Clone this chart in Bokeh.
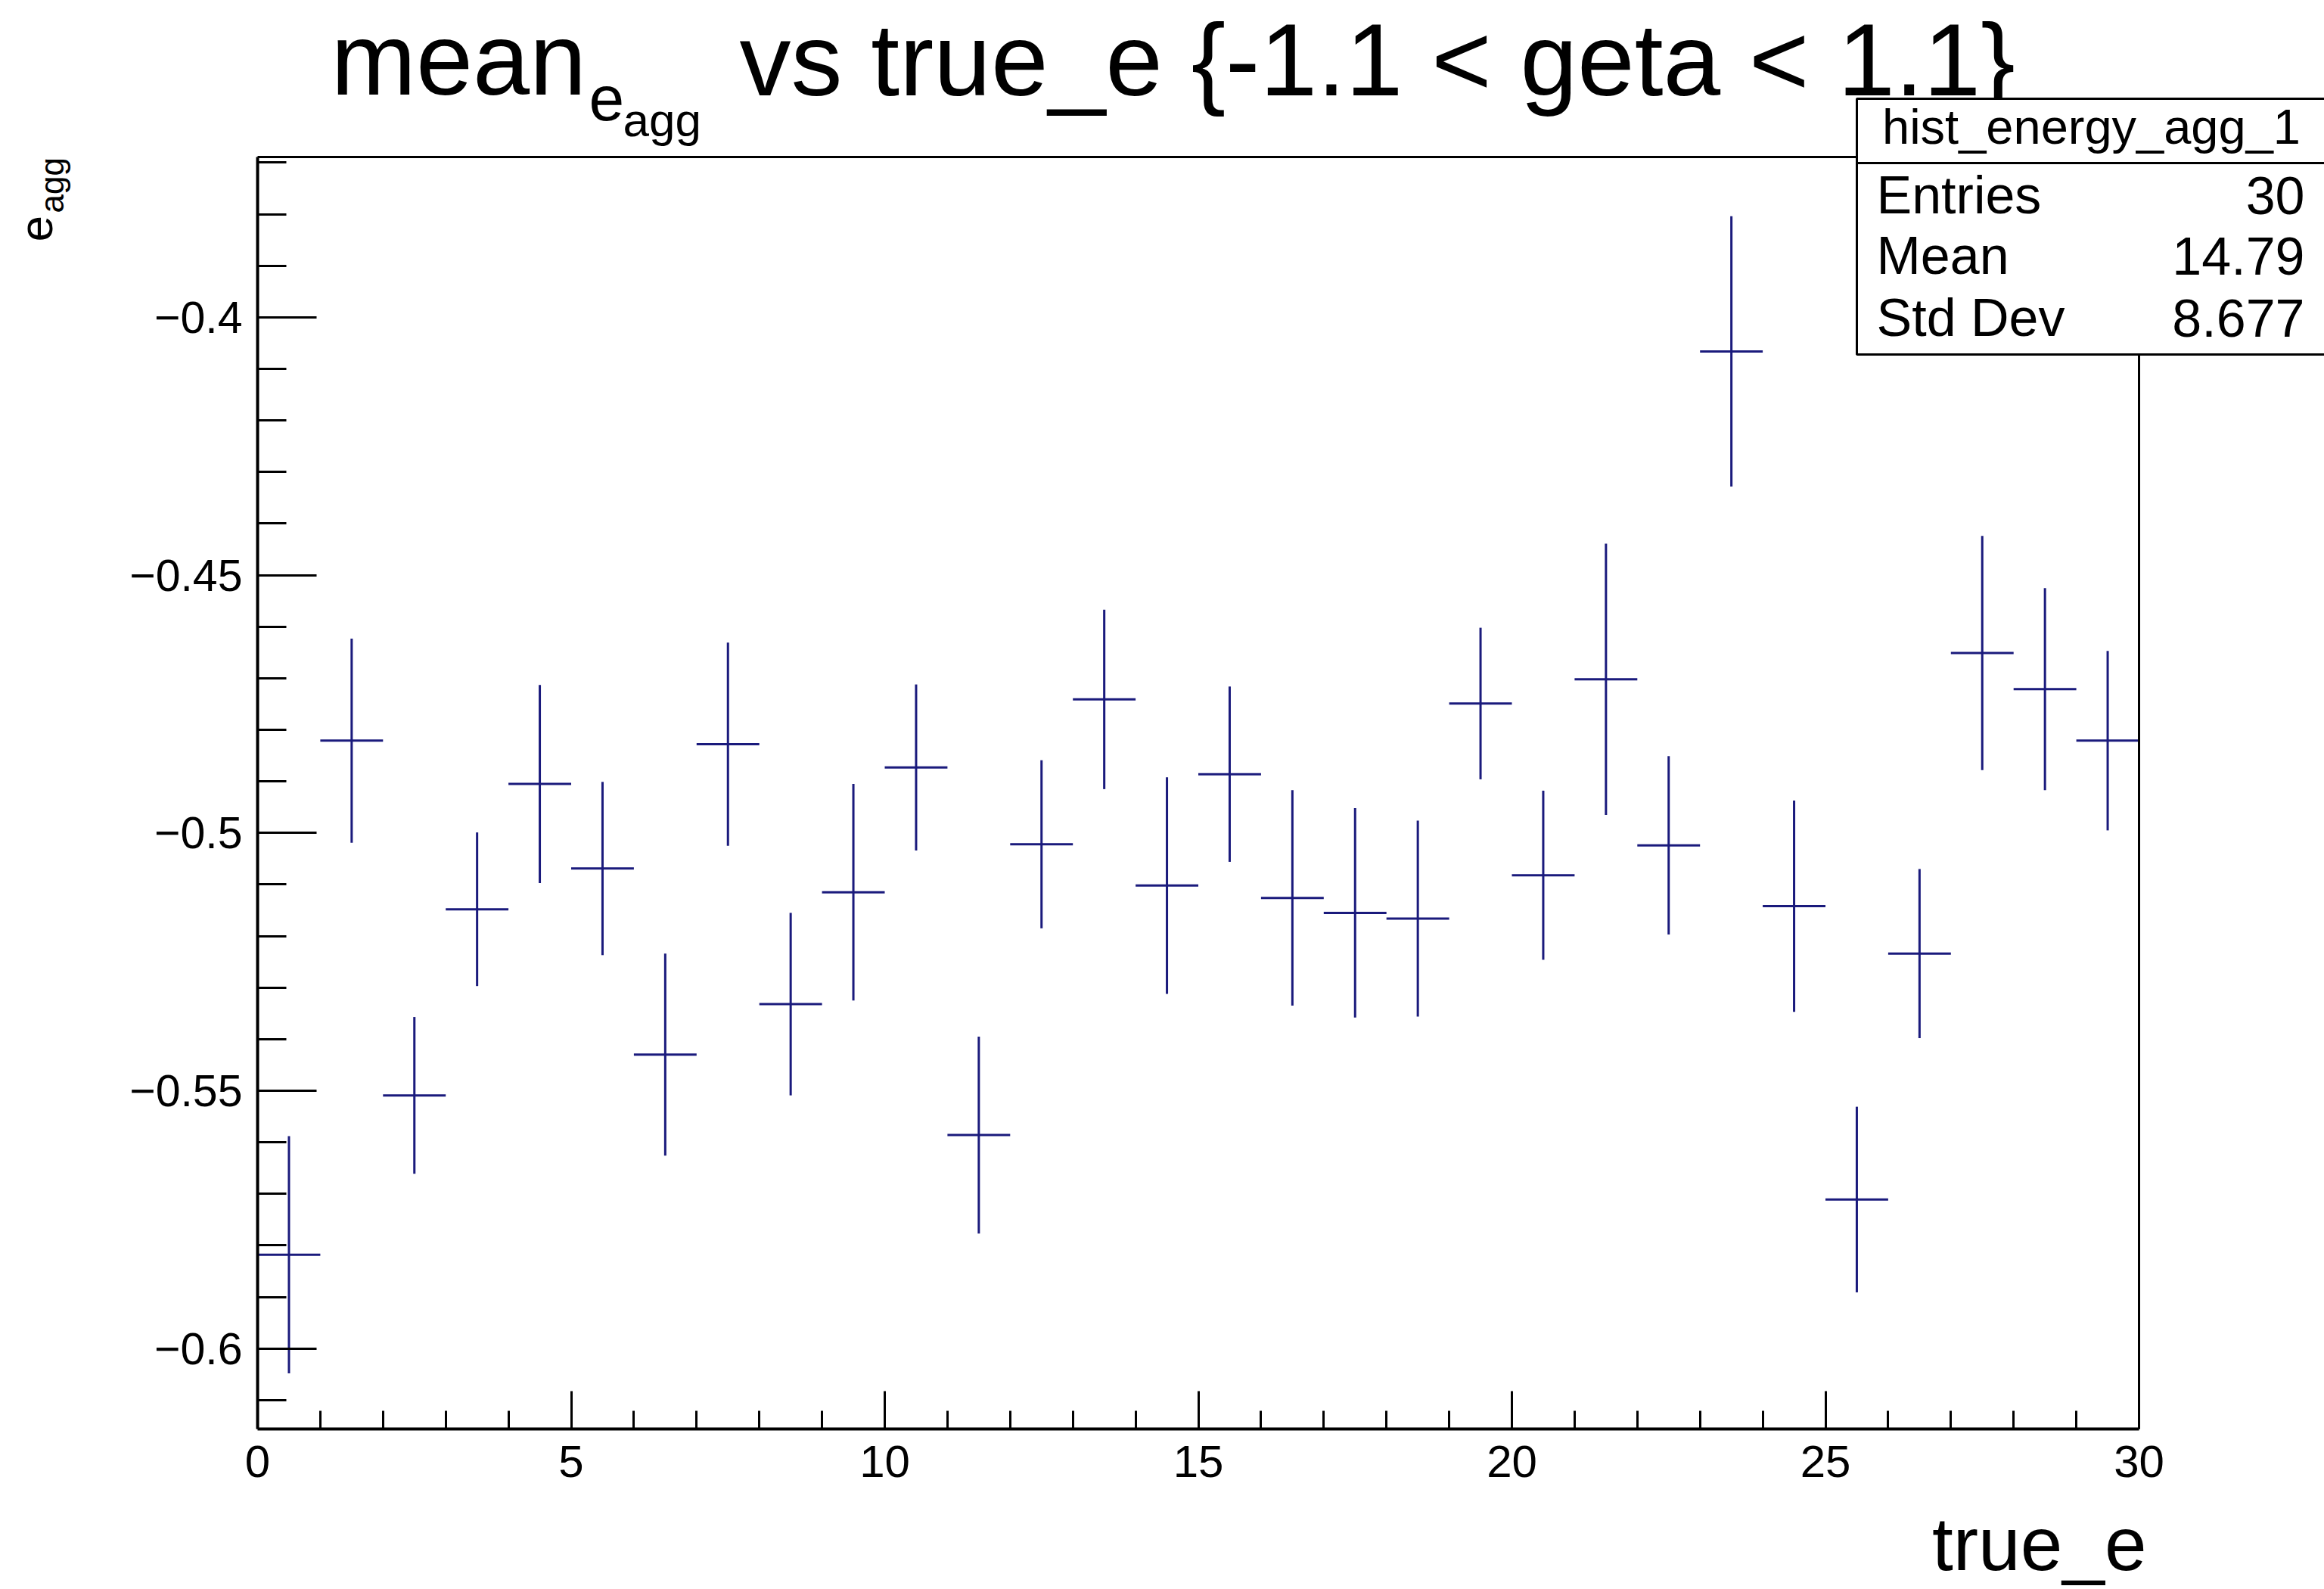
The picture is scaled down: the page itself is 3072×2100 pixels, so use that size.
import math
from bokeh.plotting import figure
from bokeh.models import Range1d, FixedTicker, Label, BoxAnnotation, LinearAxis
from bokeh.embed import file_html
from bokeh.resources import INLINE

# ---- data ----
true_e_centers = [0.5, 1.5, 2.5, 3.5, 4.5, 5.5, 6.5, 7.5, 8.5, 9.5,
                  10.5, 11.5, 12.5, 13.5, 14.5, 15.5, 16.5, 17.5, 18.5, 19.5,
                  20.5, 21.5, 22.5, 23.5, 24.5, 25.5, 26.5, 27.5, 28.5, 29.5]
bin_half_width = [0.5] * 30
mean_e_agg = [-0.5818, -0.4821, -0.5509, -0.5148, -0.4905, -0.5069, -0.5430, -0.4828, -0.5332, -0.5115,
              -0.4873, -0.5586, -0.5022, -0.4741, -0.5102, -0.4886, -0.5126, -0.5155, -0.5166, -0.4749,
              -0.5082, -0.4702, -0.5024, -0.4066, -0.5142, -0.5711, -0.5234, -0.4651, -0.4721, -0.4821]
mean_err = [0.0230, 0.0198, 0.0152, 0.0149, 0.0192, 0.0168, 0.0196, 0.0197, 0.0177, 0.0210,
            0.0161, 0.0191, 0.0163, 0.0174, 0.0210, 0.0170, 0.0209, 0.0203, 0.0190, 0.0147,
            0.0164, 0.0263, 0.0173, 0.0262, 0.0205, 0.0180, 0.0164, 0.0227, 0.0196, 0.0174]

x_bounds = (0.0, 30.0)
y_bounds = (-0.6156, -0.3689)
x_major_ticks = [0, 5, 10, 15, 20, 25, 30]
x_minor_ticks = [1, 2, 3, 4, 6, 7, 8, 9, 11, 12, 13, 14, 16, 17, 18, 19,
                 21, 22, 23, 24, 26, 27, 28, 29]
y_major_ticks = [-0.6, -0.55, -0.5, -0.45, -0.4]
y_major_labels = ["\u22120.6", "\u22120.55", "\u22120.5", "\u22120.45", "\u22120.4"]
y_minor_ticks = [-0.61, -0.59, -0.58, -0.57, -0.56, -0.54, -0.53, -0.52, -0.51,
                 -0.49, -0.48, -0.47, -0.46, -0.44, -0.43, -0.42, -0.41,
                 -0.39, -0.38, -0.37]

stats_name = "hist_energy_agg_1"
stats_keys = ["Entries", "Mean", "Std Dev"]
stats_vals = ["30", "14.79", "8.677"]

title_main = "mean"
title_sub1 = "e"
title_sub2 = "agg"
title_rest = "vs true_e {-1.1 < geta < 1.1}"
x_title = "true_e"

# ---- layout (pixel positions of the histogram frame on the canvas) ----
W, H = 3072, 2100
FL, FR, FT, FB = 340, 2827, 207, 1888
X0, X1 = x_bounds
Y0, Y1 = y_bounds
FONT = "Liberation Sans"
NAVY = "#1a1a7c"
BASE_SHIFT = 0.36   # empirical offset of the rendered baseline, in em


def dx(px):
    return X0 + (px - FL) * (X1 - X0) / (FR - FL)


def dy(py):
    return Y1 - (py - FT) * (Y1 - Y0) / (FB - FT)


p = figure(width=W, height=H,
           x_range=Range1d(dx(0), dx(W)), y_range=Range1d(dy(H), dy(0)),
           output_backend="svg", toolbar_location=None, title_location=None,
           x_axis_location=None, y_axis_location=None,
           min_border=0, min_border_left=0, min_border_right=0,
           min_border_top=0, min_border_bottom=0)
p.background_fill_color = "white"
p.border_fill_color = "white"
p.outline_line_color = None
p.xgrid.visible = False
p.ygrid.visible = False

# ---- axes (drawn by the library at fixed data locations) ----
xa = LinearAxis(fixed_location=Y0, bounds=x_bounds,
                ticker=FixedTicker(ticks=x_major_ticks, minor_ticks=x_minor_ticks))
xa.major_tick_in = 50
xa.major_tick_out = 0
xa.minor_tick_in = 24
xa.minor_tick_out = 0
xa.axis_line_width = 4
xa.major_tick_line_width = 3
xa.minor_tick_line_width = 3
xa.major_label_text_font = FONT
xa.major_label_text_font_size = "60px"
xa.major_label_text_color = "black"
xa.major_label_standoff = 22
p.add_layout(xa, "below")

ya = LinearAxis(fixed_location=X0, bounds=y_bounds,
                ticker=FixedTicker(ticks=y_major_ticks, minor_ticks=y_minor_ticks))
ya.major_label_overrides = {t: s for t, s in zip(y_major_ticks, y_major_labels)}
ya.major_tick_in = 78
ya.major_tick_out = 0
ya.minor_tick_in = 38
ya.minor_tick_out = 0
ya.axis_line_width = 4
ya.major_tick_line_width = 3
ya.minor_tick_line_width = 3
ya.major_label_text_font = FONT
ya.major_label_text_font_size = "59px"
ya.major_label_text_color = "black"
ya.major_label_standoff = 20
p.add_layout(ya, "left")

# frame top and right edges
top_ax = LinearAxis(fixed_location=Y1, bounds=x_bounds,
                    ticker=FixedTicker(ticks=[], minor_ticks=[]),
                    axis_line_width=3, major_label_text_font_size="0px")
p.add_layout(top_ax, "above")
right_ax = LinearAxis(fixed_location=X1, bounds=y_bounds,
                      ticker=FixedTicker(ticks=[], minor_ticks=[]),
                      axis_line_width=3, major_label_text_font_size="0px")
p.add_layout(right_ax, "right")

# ---- error-bar crosses ----
lo = [m - e for m, e in zip(mean_e_agg, mean_err)]
hi = [m + e for m, e in zip(mean_e_agg, mean_err)]
xl = [c - h for c, h in zip(true_e_centers, bin_half_width)]
xr = [c + h for c, h in zip(true_e_centers, bin_half_width)]
p.segment(x0=true_e_centers, y0=lo, x1=true_e_centers, y1=hi,
          line_color=NAVY, line_width=3)
p.segment(x0=xl, y0=mean_e_agg, x1=xr, y1=mean_e_agg,
          line_color=NAVY, line_width=3)


def lab(txt, px, py, size, align="left", angle=0.0):
    # (px, py): canvas position of the text baseline start
    if angle == 0.0:
        py = py - BASE_SHIFT * size
    else:
        px = px - BASE_SHIFT * size
    p.add_layout(Label(x=dx(px), y=dy(py), text=txt, text_font=FONT,
                       text_font_size=f"{size}px", text_color="black",
                       text_align=align, text_baseline="alphabetic",
                       angle=angle))


# ---- title pieces ----
lab(title_main, 437, 127, 135)
lab(title_sub1, 778, 160, 84)
lab(title_sub2, 823, 180, 62)
lab(title_rest, 977, 127, 136)

# ---- y-axis title (only its subscript edge is visible in the picture) ----
lab(title_sub1, 70, 319, 62, angle=math.pi / 2)
lab(title_sub2, 84, 281, 44, angle=math.pi / 2)

# ---- x-axis title ----
lab(x_title, 2837, 2075, 100, align="right")

# ---- stats box ----
p.add_layout(BoxAnnotation(left=dx(2454), right=dx(3090), top=dy(130), bottom=dy(468),
                           fill_color="white", fill_alpha=1.0,
                           line_color="black", line_width=3, line_alpha=1.0))
p.add_layout(BoxAnnotation(left=dx(2454), right=dx(3090), top=dy(213.5), bottom=dy(216.5),
                           fill_color="black", fill_alpha=1.0,
                           line_alpha=0.0))
lab(stats_name, 2764, 190, 65, align="center")
for i, (k, v) in enumerate(zip(stats_keys, stats_vals)):
    base = [283, 363, 445][i]
    lab(k, 2480, base, 70)
    lab(v, 3046, base, 70, align="right")

open("out.html", "w").write(file_html(p, INLINE))
